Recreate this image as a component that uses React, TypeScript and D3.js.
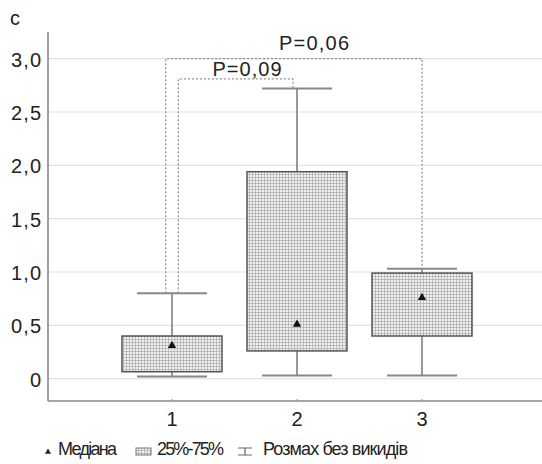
import React from "react";
import * as d3 from "d3";

// values
const groups = [1, 2, 3];
const medians = [0.31, 0.51, 0.76];
const q25 = [0.065, 0.26, 0.4];
const q75 = [0.4, 1.94, 0.99];
const whiskerLow = [0.02, 0.03, 0.03];
const whiskerHigh = [0.8, 2.72, 1.03];
const yTicks = [0, 0.5, 1, 1.5, 2, 2.5, 3];

// significance brackets: [from group, to group, level, label]
const bracketFrom = [1, 1];
const bracketTo = [3, 2];
const bracketLevel = [3.0, 2.81];
const bracketLabels = ["P=0,06", "P=0,09"];
const bracketShift = [-0.05, 0.05];

const W = 542;
const H = 464;
const font = "Liberation Sans, Arial, sans-serif";

export default function App() {
  const x = d3.scaleLinear().domain([0, 4]).range([47, 547]);
  const y = d3.scaleLinear().domain([-0.2, 3.25]).range([400, 32]);
  const boxW = 100;
  const capW = 70;
  const fmt = (v: number) => (v === 0 ? "0" : d3.format(".1f")(v).replace(".", ","));
  const tri = d3.symbol().type(d3.symbolTriangle).size(30);
  const ly = 455; // legend baseline

  return (
    <svg width={W} height={H} style={{ position: "absolute", left: 0, top: 0, background: "#fff" }}>
      <defs>
        <pattern id="hatch" width="3" height="3" patternUnits="userSpaceOnUse">
          <rect width="3" height="3" fill="#f2f2f2" />
          <path d="M0,0.5H3M0.5,0V3" stroke="#b0b0b0" strokeWidth="0.8" />
        </pattern>
      </defs>
      <text x={10} y={25} fontFamily={font} fontSize={20} fill="#222">c</text>

      {/* grid */}
      {yTicks.map((t) => (
        <line key={"g" + t} x1={49} x2={W} y1={y(t)} y2={y(t)} stroke="#e2e2e2" strokeWidth={1.2} />
      ))}
      {yTicks.map((t) => (
        <text key={"t" + t} x={41} y={y(t) + 8} textAnchor="end" fontFamily={font} fontSize={20} fill="#222" textLength={t === 0 ? undefined : 30}>
          {fmt(t)}
        </text>
      ))}

      {/* axes */}
      <line x1={48} x2={48} y1={32} y2={401} stroke="#888" strokeWidth={1.6} />
      <line x1={48} x2={W} y1={401} y2={401} stroke="#888" strokeWidth={1.6} />
      {groups.map((g) => (
        <g key={"xt" + g}>
          <line x1={x(g)} x2={x(g)} y1={399} y2={401} stroke="#888" />
          <text x={x(g)} y={426} textAnchor="middle" fontFamily={font} fontSize={20} fill="#222">{g}</text>
        </g>
      ))}

      {/* brackets */}
      {bracketLabels.map((lab, i) => {
        const a = bracketFrom[i] - 1;
        const b = bracketTo[i] - 1;
        const xa = x(groups[a] + bracketShift[i]);
        const xb = x(groups[b]) - (i === 1 ? 4 : 0);
        const yl = y(bracketLevel[i]);
        return (
          <g key={"br" + i}>
            <path
              d={`M${xa},${y(whiskerHigh[a])}V${yl}H${xb}V${y(whiskerHigh[b])}`}
              fill="none"
              stroke="#777"
              strokeWidth={1}
              strokeDasharray="2,2"
            />
            <text x={i === 0 ? 314 : 247} y={i === 0 ? 50 : 76} textAnchor="middle" fontFamily={font} fontSize={20} fill="#222" textLength={i === 0 ? 70 : 69}>
              {lab}
            </text>
          </g>
        );
      })}

      {/* boxes */}
      {groups.map((g, i) => (
        <g key={"b" + g}>
          <line x1={x(g)} x2={x(g)} y1={y(whiskerLow[i])} y2={y(whiskerHigh[i])} stroke="#777" strokeWidth={1.5} />
          <line x1={x(g) - capW / 2} x2={x(g) + capW / 2} y1={y(whiskerLow[i])} y2={y(whiskerLow[i])} stroke="#888" strokeWidth={2} />
          <line x1={x(g) - capW / 2} x2={x(g) + capW / 2} y1={y(whiskerHigh[i])} y2={y(whiskerHigh[i])} stroke="#888" strokeWidth={2} />
          <rect
            x={x(g) - boxW / 2}
            y={y(q75[i])}
            width={boxW}
            height={y(q25[i]) - y(q75[i])}
            fill="url(#hatch)"
            stroke="#555"
            strokeWidth={1.5}
          />
          <path d={tri() || ""} transform={`translate(${x(g)},${y(medians[i])})`} fill="#111" />
        </g>
      ))}

      {/* legend */}
      <path d={d3.symbol().type(d3.symbolTriangle).size(16)() || ""} transform={`translate(48,${ly - 3})`} fill="#222" />
      <text x={58} y={ly} fontFamily={font} fontSize={18} fill="#222" textLength={59}>Медіана</text>
      <rect x={136} y={ly - 7} width={15} height={7} fill="url(#hatch)" stroke="#777" strokeWidth={1} />
      <text x={157} y={ly} fontFamily={font} fontSize={18} fill="#222" textLength={67}>25%-75%</text>
      <path d={`M238,${ly - 7}H252M245,${ly - 7}V${ly}M238,${ly}H252`} stroke="#666" strokeWidth={1.2} fill="none" />
      <text x={263} y={ly} fontFamily={font} fontSize={18} fill="#222" textLength={145}>Розмах без викидів</text>
    </svg>
  );
}
